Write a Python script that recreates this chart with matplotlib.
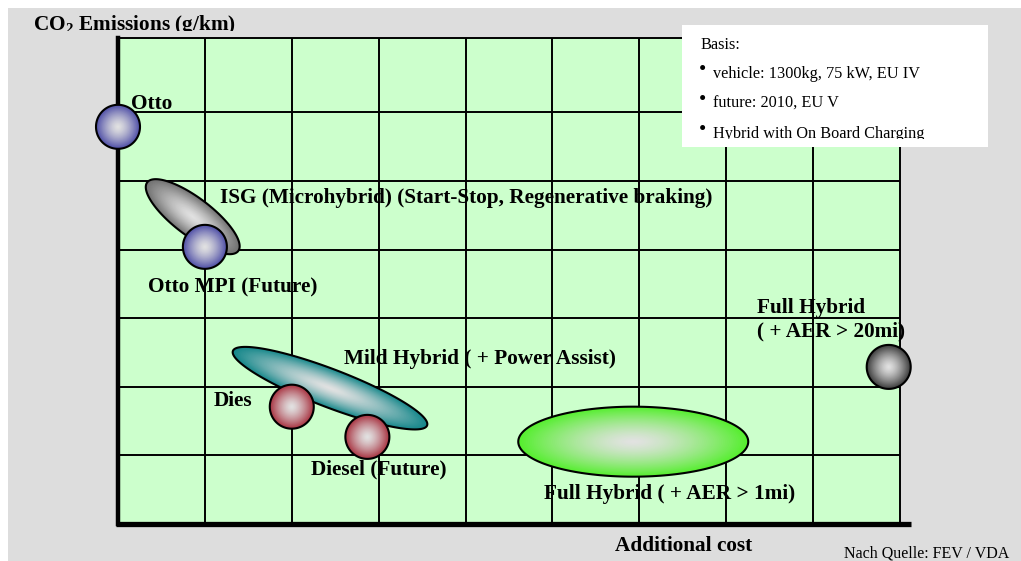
import numpy as np
import matplotlib.pyplot as plt
from matplotlib.patches import Polygon, Rectangle
from matplotlib.colors import to_rgb
from matplotlib.transforms import Bbox

plt.rcParams['font.family'] = ['Liberation Serif', 'DejaVu Serif']
plt.rcParams['mathtext.fontset'] = 'custom'
plt.rcParams['mathtext.rm'] = 'Liberation Serif:bold'

# Rastereinheiten: x = Mehrkosten, y = CO2 Emission
kugel_namen = ['Otto', 'Otto MPI', 'Diesel', 'Diesel Future', 'Full Hybrid 20mi']
kugel_x = [0.0, 1.0, 2.0, 2.87, 8.87]
kugel_y = [5.79, 4.04, 1.71, 1.27, 2.29]

ellipsen_namen = ['ISG', 'Mild Hybrid', 'Full Hybrid 1mi']
ellipsen_x = [0.86, 2.44, 5.93]
ellipsen_y = [4.48, 1.98, 1.20]

labels = ['Otto',
          'ISG (Microhybrid) (Start-Stop, Regenerative braking)',
          'Otto MPI (Future)',
          'Mild Hybrid ( + Power Assist)',
          'Dies',
          'Diesel (Future)',
          'Full Hybrid ( + AER > 1mi)',
          'Full Hybrid\n( + AER > 20mi)']
label_x = [0.15, 1.17, 0.35, 2.60, 1.10, 2.22, 4.90, 7.35]
label_y = [6.12, 4.75, 3.45, 2.41, 1.79, 0.79, 0.44, 2.98]

basis = ['vehicle: 1300kg, 75 kW, EU IV', 'future: 2010, EU V',
         'Hybrid with On Board Charging']

# styles
W, H = 1021, 561
kugel_rand = ['#4d4da6', '#4d4da6', '#a83240', '#a83240', '#3a3a3a']
kugel_r = 22
ell_form = [(57, 19, -37, '#707070'), (104, 19, -21, '#14878a'), (115, 35, 0, '#55ee2e')]
mitte = '#e2e2e2'
fs = 15.3

fig = plt.figure(figsize=(W / 100, H / 100), dpi=100, facecolor='white')
fig.add_artist(Rectangle((8 / W, 0), 1 - 8 / W, 1 - 8 / H, transform=fig.transFigure,
                         facecolor='#dddddd', edgecolor='none', zorder=-10))

ax = fig.add_axes([118 / W, 37 / H, 782 / W, 486 / H])
ax.set_facecolor('#ccffcc')
ax.set_xlim(0, 9)
ax.set_ylim(0, 486 / 68.6)
ax.set_xticks([])
ax.set_yticks([])
for s in ['top', 'right']:
    ax.spines[s].set_linewidth(1.4)
for s in ['left', 'bottom']:
    ax.spines[s].set_visible(False)
for i in range(1, 9):
    ax.axvline(i, color='black', lw=1.4, zorder=2)
for j in range(1, 7):
    ax.axhline(j, color='black', lw=1.4, zorder=2)
ax.plot([0, 0], [0, 1], color='black', lw=3.2, transform=ax.transAxes, clip_on=False, zorder=4)
ax.plot([-0.003, 1.014], [0, 0], color='black', lw=3.8, transform=ax.transAxes,
        clip_on=False, zorder=4, solid_capstyle='butt')

sx = 782 / 9
sy = 68.6


def form(cx, cy, a, b, winkel, rand, z=3, n=60):
    t = np.linspace(0, 2 * np.pi, 180)
    th = np.deg2rad(winkel)
    c0 = np.array(to_rgb(mitte))
    c1 = np.array(to_rgb(rand))
    for k in range(n):
        s = 1 - k / n
        u = a * s * np.cos(t)
        v = b * s * np.sin(t)
        px = u * np.cos(th) - v * np.sin(th)
        py = u * np.sin(th) + v * np.cos(th)
        farbe = c0 + (c1 - c0) * s ** 1.4
        ax.add_patch(Polygon(np.column_stack([cx + px / sx, cy + py / sy]),
                             facecolor=farbe, edgecolor='none', zorder=z, clip_on=False))
    u = a * np.cos(t)
    v = b * np.sin(t)
    px = u * np.cos(th) - v * np.sin(th)
    py = u * np.sin(th) + v * np.cos(th)
    ax.add_patch(Polygon(np.column_stack([cx + px / sx, cy + py / sy]), fill=False,
                         edgecolor='black', lw=1.5, zorder=z + 0.1, clip_on=False))


for i in range(len(ellipsen_namen)):
    a, b, w, c = ell_form[i]
    form(ellipsen_x[i], ellipsen_y[i], a, b, w, c, z=3)
for i in range(len(kugel_namen)):
    form(kugel_x[i], kugel_y[i], kugel_r, kugel_r, 0, kugel_rand[i], z=5)

for i in range(len(labels)):
    ax.text(label_x[i], label_y[i], labels[i], fontsize=fs, fontweight='bold',
            va='center', ha='left', zorder=1.5, linespacing=1.25)

t = fig.text(33 / W, 1 - 30 / H, 'CO$_\\mathrm{2}$ Emissions (g/km)', fontsize=fs,
             fontweight='bold', va='baseline', ha='left')
t.set_clip_box(Bbox.from_extents(0, H - 31, W, H))
fig.text(684 / W, 1 - 546 / H, 'Additional cost', fontsize=fs, fontweight='bold',
         va='center', ha='center')
fig.text(1009 / W, 1 - 553 / H, 'Nach Quelle: FEV / VDA', fontsize=11.5, va='center', ha='right')

fig.add_artist(Rectangle((682 / W, 1 - 147 / H), 306 / W, 122 / H, transform=fig.transFigure,
                         facecolor='white', edgecolor='none', zorder=5))
fig.text(700 / W, 1 - 45 / H, 'Basis:', fontsize=11.7, va='center', ha='left', zorder=6)
zeilen_y = [74, 104, 134]
for k in range(len(basis)):
    fig.text(699 / W, 1 - (zeilen_y[k] - 3) / H, '\u2022', fontsize=15, va='center',
             ha='left', zorder=6)
    tt = fig.text(713 / W, 1 - zeilen_y[k] / H, basis[k], fontsize=11.7, va='center',
                  ha='left', zorder=6)
    tt.set_clip_box(Bbox.from_extents(0, H - 139, W, H))

fig.savefig('out.png', dpi=100, facecolor=fig.get_facecolor())
